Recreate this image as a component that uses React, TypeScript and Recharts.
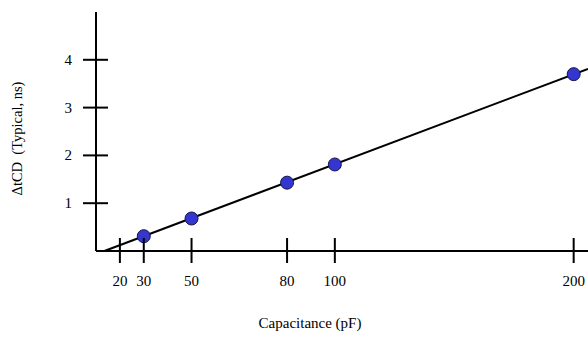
import React from 'react';
import { ComposedChart, Line, Scatter, XAxis, YAxis } from 'recharts';

// where each tick sits on the drawn axis, and what it is labelled
const tickPositions = [10, 20, 40, 80, 100, 200];
const tickLabels = ['20', '30', '50', '80', '100', '200'];

// measured points (x = axis position of the labelled capacitance)
const pointX = [20, 40, 80, 100, 200];
const deltaTcd = [0.31, 0.68, 1.43, 1.81, 3.7];

// straight fit through the points, running off the right edge
const fitX = [3.5, 206];
const fitY = [0, 3.81];

const yTicks = [1, 2, 3, 4];

const points = pointX.map((x, i) => ({ x, v: deltaTcd[i] }));
const fitLine = fitX.map((x, i) => ({ x, v: fitY[i] }));

const FONT = '"Liberation Serif", "Times New Roman", Times, serif';

const labelFor = (pos: number) => tickLabels[tickPositions.indexOf(pos)] ?? '';

const XTick = (props: any) => {
  const { x, y, payload } = props;
  return (
    <g>
      <line x1={x} x2={x} y1={y - 13} y2={y + 12} stroke="#000" strokeWidth={2} />
      <text x={x} y={y + 35} textAnchor="middle" fontFamily={FONT} fontSize={15} fill="#000">
        {labelFor(payload.value)}
      </text>
    </g>
  );
};

const YTick = (props: any) => {
  const { x, y, payload } = props;
  return (
    <g>
      <line x1={x - 13} x2={x + 12} y1={y} y2={y} stroke="#000" strokeWidth={2} />
      <text x={x - 24} y={y + 5} textAnchor="end" fontFamily={FONT} fontSize={15} fill="#000">
        {payload.value}
      </text>
    </g>
  );
};

const Dot = (props: any) => {
  const { cx, cy } = props;
  return <circle cx={cx} cy={cy} r={6.5} fill="#3535cf" stroke="#15154a" strokeWidth={1} />;
};

export default function App() {
  return (
    <div style={{ position: 'absolute', left: 0, top: 0 }}>
      <ComposedChart
        width={588}
        height={339}
        data={fitLine}
        margin={{ top: 12, right: 0, bottom: 0, left: 0 }}
      >
        <XAxis
          dataKey="x"
          type="number"
          domain={[0, 206]}
          ticks={tickPositions}
          interval={0}
          tickSize={0}
          tickMargin={0}
          tickLine={false}
          tick={<XTick />}
          height={88}
          axisLine={{ stroke: '#000', strokeWidth: 2 }}
          label={{
            content: (p: any) => {
              const vb = p.viewBox;
              return (
                <text
                  x={vb.x + vb.width / 2 - 32}
                  y={vb.y + 77}
                  textAnchor="middle"
                  fontFamily={FONT}
                  fontSize={15}
                  fill="#000"
                >
                  Capacitance (pF)
                </text>
              );
            },
          }}
        />
        <YAxis
          type="number"
          domain={[0, 5]}
          ticks={yTicks}
          interval={0}
          tickSize={0}
          tickMargin={0}
          tickLine={false}
          tick={<YTick />}
          width={96}
          axisLine={{ stroke: '#000', strokeWidth: 2 }}
          label={{
            content: (p: any) => {
              const vb = p.viewBox;
              const cx = vb.x + 22;
              const cy = vb.y + vb.height / 2 + 7;
              return (
                <text
                  x={cx}
                  y={cy}
                  transform={`rotate(-90 ${cx} ${cy})`}
                  textAnchor="middle"
                  fontFamily={FONT}
                  fontSize={14.5}
                  fill="#000"
                >
                  {'\u0394tCD\u00a0 (Typical, ns)'}
                </text>
              );
            },
          }}
        />
        <Line
          data={fitLine}
          dataKey="v"
          stroke="#000"
          strokeWidth={2}
          dot={false}
          activeDot={false}
          isAnimationActive={false}
        />
        <Scatter data={points} dataKey="v" shape={<Dot />} isAnimationActive={false} />
      </ComposedChart>
    </div>
  );
}
